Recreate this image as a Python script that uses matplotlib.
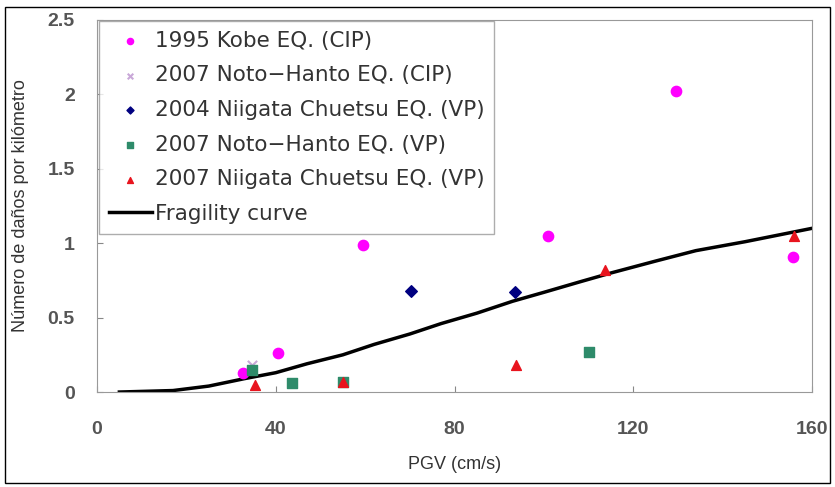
import matplotlib
matplotlib.use("Agg")
import matplotlib.pyplot as plt
from matplotlib.patches import Rectangle

plt.rcParams["font.family"] = ["Liberation Sans", "DejaVu Sans"]

# data
kobe_cip_x = [32.6, 40.6, 59.6, 100.9, 129.5, 155.8]
kobe_cip_y = [0.13, 0.26, 0.99, 1.05, 2.02, 0.91]
noto_cip_x = [34.6]
noto_cip_y = [0.18]
niigata04_vp_x = [70.3, 93.5]
niigata04_vp_y = [0.68, 0.67]
noto_vp_x = [34.6, 43.7, 55.1, 110.0]
noto_vp_y = [0.15, 0.06, 0.07, 0.27]
niigata07_vp_x = [35.3, 55.1, 93.8, 113.6, 156.0]
niigata07_vp_y = [0.05, 0.07, 0.18, 0.82, 1.05]
curve_x = [5, 17, 25, 33, 40, 47, 55, 62, 70, 77, 85, 93, 100, 108, 115, 125, 134, 145, 160]
curve_y = [0.0, 0.01, 0.04, 0.09, 0.13, 0.19, 0.25, 0.32, 0.39, 0.46, 0.53, 0.61,
           0.67, 0.74, 0.80, 0.88, 0.95, 1.01, 1.10]

fig = plt.figure(figsize=(8.35, 4.87), dpi=100)
ax = fig.add_axes([0.1162, 0.195, 0.8563, 0.764])

ax.scatter(kobe_cip_x, kobe_cip_y, s=55, marker="o", color="#ff00ff", zorder=3,
           label="1995 Kobe EQ. (CIP)")
ax.scatter(noto_cip_x, noto_cip_y, s=45, marker="x", color="#c9a8d8", zorder=3,
           label="2007 Noto\u2212Hanto EQ. (CIP)")
ax.scatter(niigata04_vp_x, niigata04_vp_y, s=35, marker="D", color="#000080", zorder=3,
           label="2004 Niigata Chuetsu EQ. (VP)")
ax.scatter(noto_vp_x, noto_vp_y, s=50, marker="s", color="#2e8b6a", zorder=3,
           label="2007 Noto\u2212Hanto EQ. (VP)")
ax.scatter(niigata07_vp_x, niigata07_vp_y, s=50, marker="^", color="#e8141e", zorder=4,
           label="2007 Niigata Chuetsu EQ. (VP)")
ax.plot(curve_x, curve_y, color="black", lw=2.5, zorder=2, label="Fragility curve")

ax.set_xlim(0, 160)
ax.set_ylim(0, 2.5)
ax.set_xticks([0, 40, 80, 120, 160])
ax.set_yticks([0, 0.5, 1, 1.5, 2, 2.5])
ax.set_yticklabels(["0", "0.5", "1", "1.5", "2", "2.5"])
ax.tick_params(direction="in", length=4, color="#888888", labelsize=14,
               labelcolor="#555555")
ax.tick_params(axis="x", pad=21)
ax.tick_params(axis="y", pad=16)
for lab in ax.get_xticklabels() + ax.get_yticklabels():
    lab.set_fontweight("bold")
for s in ax.spines.values():
    s.set_color("#999999")

ax.set_xlabel("PGV (cm/s)", fontsize=13, color="#333333", labelpad=13)
ax.set_ylabel("Número de daños por kilómetro", fontsize=13, color="#333333", labelpad=13)

leg = ax.legend(loc="upper left", bbox_to_anchor=(0.003, 0.997),
                prop={"family": "DejaVu Sans", "size": 15.5},
                frameon=True, fancybox=False, edgecolor="#999999", handlelength=2.0,
                handletextpad=0.15, borderpad=0.45, labelspacing=0.68, markerscale=0.6,
                borderaxespad=0)
for t in leg.get_texts():
    t.set_color("#333333")

fig.patches.append(Rectangle((0.006, 0.008), 0.988, 0.978, transform=fig.transFigure,
                             fill=False, edgecolor="black", lw=1))

fig.savefig("out.png", dpi=100)
